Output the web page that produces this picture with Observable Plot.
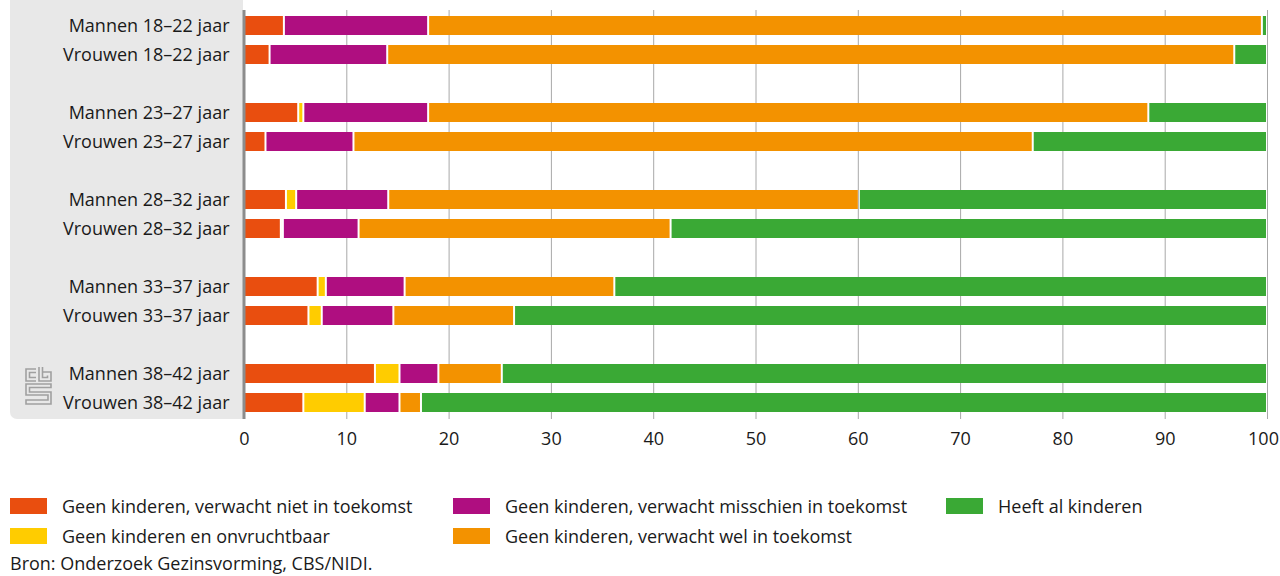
<!DOCTYPE html>
<html>
<head>
<meta charset="utf-8">
<script src="https://cdn.jsdelivr.net/npm/d3@7"></script>
<script src="https://cdn.jsdelivr.net/npm/@observablehq/plot@0.6"></script>
<style>
  html, body { margin: 0; padding: 0; background: #fff; }
  body { width: 1280px; height: 576px; overflow: hidden; font-family: "Open Sans", sans-serif; color: #1a1a1a; }
  #wrap { position: relative; width: 1280px; height: 576px; }
  #panel { position: absolute; left: 10px; top: 0; width: 233px; height: 419px; background: #e8e8e8; border-bottom-left-radius: 7px; }
  #logo { position: absolute; left: 24px; top: 366px; }
  #chart { position: absolute; left: 0; top: 0; }
  #legend { position: absolute; left: 10px; top: 491px; display: grid; grid-template-rows: 30px 30px; grid-auto-flow: column; grid-template-columns: 443px 493px 300px; font-size: 18px; }
  .item { display: flex; align-items: center; height: 30px; }
  .sw { width: 37px; height: 16px; margin-right: 15px; flex: none; }
  #source { position: absolute; left: 10px; top: 551px; font-size: 18px; }
</style>
</head>
<body>
<div id="wrap">
  <div id="panel"></div>
  <svg id="logo" width="30" height="42" viewBox="0 0 30 42" fill="none" stroke="#a0a0a0" stroke-width="1.6">
    <path d="M12 3 H2 V15 H12 M12 6.5 H5.5 V11.5 H12"/>
    <path d="M15 1 V15 H27 V6 H18.5 M18.5 1 V11.5 H23.5 V9.5"/>
    <path d="M27 18 H2 V29 H24 V34 H2 V38 H27 V26 H5.5 V21.5 H27 Z"/>
  </svg>
  <div id="chart"></div>
  <div id="legend"></div>
  <div id="source">Bron: Onderzoek Gezinsvorming, CBS/NIDI.</div>
</div>
<script>
const groups = [
  "Mannen 18–22 jaar", "Vrouwen 18–22 jaar",
  "Mannen 23–27 jaar", "Vrouwen 23–27 jaar",
  "Mannen 28–32 jaar", "Vrouwen 28–32 jaar",
  "Mannen 33–37 jaar", "Vrouwen 33–37 jaar",
  "Mannen 38–42 jaar", "Vrouwen 38–42 jaar"
];
const yOrder = [
  "Mannen 18–22 jaar", "Vrouwen 18–22 jaar", "sp1",
  "Mannen 23–27 jaar", "Vrouwen 23–27 jaar", "sp2",
  "Mannen 28–32 jaar", "Vrouwen 28–32 jaar", "sp3",
  "Mannen 33–37 jaar", "Vrouwen 33–37 jaar", "sp4",
  "Mannen 38–42 jaar", "Vrouwen 38–42 jaar"
];
const seriesNames = [
  "Geen kinderen, verwacht niet in toekomst",
  "Geen kinderen en onvruchtbaar",
  "Geen kinderen, verwacht misschien in toekomst",
  "Geen kinderen, verwacht wel in toekomst",
  "Heeft al kinderen"
];
const seriesColors = ["#e94e0f", "#ffcc00", "#af0e80", "#f39200", "#3aa935"];
const niet         = [3.9, 2.5, 5.3, 2.1, 4.1, 3.6, 7.2, 6.3, 12.8, 5.8];
const onvruchtbaar = [0.0, 0.0, 0.5, 0.0, 1.0, 0.2, 0.8, 1.3, 2.4, 6.0];
const misschien    = [14.1, 11.5, 12.2, 8.6, 9.0, 7.4, 7.7, 7.0, 3.8, 3.4];
const wel          = [81.5, 82.8, 70.4, 66.4, 46.0, 30.5, 20.5, 11.8, 6.2, 2.1];
const heeft        = [0.5, 3.2, 11.6, 22.9, 39.9, 58.3, 63.8, 73.6, 74.8, 82.7];
const xTicks = [0, 10, 20, 30, 40, 50, 60, 70, 80, 90, 100];
const legendOrder = [0, 1, 2, 3, 4];

const seriesValues = [niet, onvruchtbaar, misschien, wel, heeft];
const table = groups.flatMap((g, i) =>
  seriesNames.map((s, j) => ({ group: g, series: s, value: seriesValues[j][i] }))
).filter(d => d.value > 0);

const chart = Plot.plot({
  width: 1280,
  height: 450,
  marginLeft: 244,
  marginRight: 13,
  marginTop: 10,
  marginBottom: 31,
  style: { fontFamily: "'Open Sans', sans-serif", fontSize: "18px", color: "#1a1a1a", background: "transparent", overflow: "visible" },
  x: { domain: [0, 100] },
  y: { domain: yOrder, paddingInner: 0.34, paddingOuter: 0.17 },
  color: { domain: seriesNames, range: seriesColors },
  marks: [
    Plot.ruleX(xTicks.filter(d => d > 0), { stroke: "#a8a8a8", strokeWidth: 1 }),
    Plot.barX(table, Plot.stackX({
      x: "value", y: "group", fill: "series", order: seriesNames,
      insetLeft: 1, insetRight: 1
    })),
    Plot.ruleX([0], { stroke: "#8c8c8c", strokeWidth: 3, dx: -0.5 }),
    Plot.axisY({ ticks: groups, tickSize: 0, tickPadding: 15, label: null }),
    Plot.axisX({ ticks: xTicks.filter(d => d < 100), tickSize: 0, tickPadding: 13, label: null }),
    Plot.axisX({ ticks: [100], tickSize: 0, tickPadding: 13, label: null, dx: -4 })
  ]
});
document.getElementById("chart").appendChild(chart);

const legend = document.getElementById("legend");
legendOrder.forEach(i => {
  const item = document.createElement("div");
  item.className = "item";
  const sw = document.createElement("span");
  sw.className = "sw";
  sw.style.background = seriesColors[i];
  const t = document.createElement("span");
  t.textContent = seriesNames[i];
  item.appendChild(sw);
  item.appendChild(t);
  legend.appendChild(item);
});
</script>
</body>
</html>
